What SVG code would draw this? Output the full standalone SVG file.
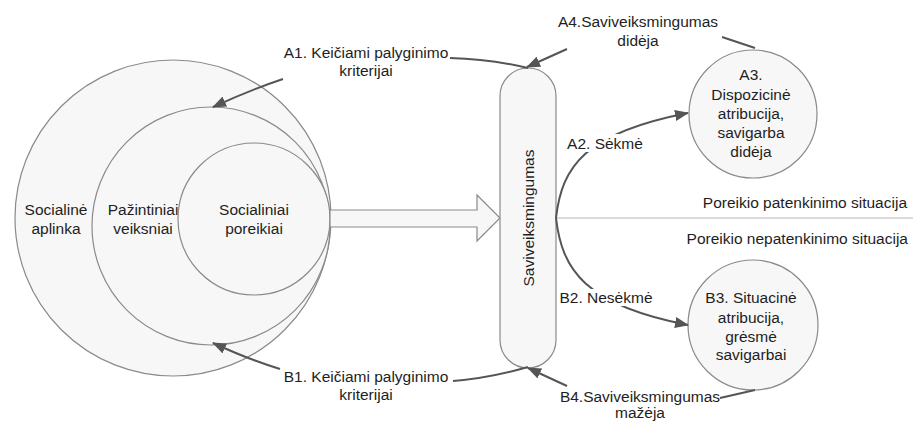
<svg xmlns="http://www.w3.org/2000/svg" width="913" height="421" viewBox="0 0 913 421">
<defs>
<style>
.shape{fill:#f7f7f7;stroke:#8a8a8a;stroke-width:1.2}
.t{font-family:"Liberation Sans",Arial,sans-serif;font-size:15.5px;fill:#1e1e1e;text-anchor:middle;dominant-baseline:central}
.te{font-family:"Liberation Sans",Arial,sans-serif;font-size:15.5px;fill:#1e1e1e;text-anchor:end;dominant-baseline:central}
.c{fill:none;stroke:#555;stroke-width:2}
.ca{fill:none;stroke:#555;stroke-width:2;marker-end:url(#ah)}
.bg{fill:#fff}
</style>
<marker id="ah" markerUnits="userSpaceOnUse" markerWidth="14" markerHeight="11" refX="13" refY="5.5" orient="auto">
<path d="M0,0 L14,5.5 L0,11 Z" fill="#555"/>
</marker>
</defs>
<rect width="913" height="421" fill="#fff"/>

<g id="divider">
<line x1="556" y1="218" x2="913" y2="218" stroke="#cfcfcf" stroke-width="1.5"/>
<text class="te" x="907" y="202">Poreikio patenkinimo situacija</text>
<text class="te" x="908" y="238">Poreikio nepatenkinimo situacija</text>
</g>

<g id="socialine-aplinka">
<circle class="shape" cx="173" cy="218" r="158"/>
<text class="t" x="56" y="209">Socialinė</text>
<text class="t" x="56" y="228">aplinka</text>
</g>
<g id="pazintiniai-veiksniai">
<circle class="shape" cx="211" cy="226" r="119"/>
<text class="t" x="143" y="209">Pažintiniai</text>
<text class="t" x="143" y="228">veiksniai</text>
</g>
<g id="socialiniai-poreikiai">
<circle class="shape" cx="254" cy="219" r="76"/>
<text class="t" x="254" y="209">Socialiniai</text>
<text class="t" x="254" y="228">poreikiai</text>
</g>

<g id="fat-arrow">
<path class="shape" d="M330,210 L477,210 L477,195 L500,218 L477,241 L477,227 L330,227 Z"/>
</g>

<g id="saviveiksmingumas">
<rect class="shape" x="500" y="68" width="56" height="300" rx="28" ry="28"/>
<text class="t" transform="translate(528,218) rotate(-90)" x="0" y="0">Saviveiksmingumas</text>
</g>

<g id="a3">
<circle class="shape" cx="753" cy="114" r="64"/>
<text class="t" x="751" y="74">A3.</text>
<text class="t" x="751" y="94">Dispozicinė</text>
<text class="t" x="751" y="113">atribucija,</text>
<text class="t" x="751" y="132">savigarba</text>
<text class="t" x="751" y="151">didėja</text>
</g>

<g id="b3">
<circle class="shape" cx="753" cy="325" r="65"/>
<text class="t" x="751" y="297">B3. Situacinė</text>
<text class="t" x="751" y="317">atribucija,</text>
<text class="t" x="751" y="336">grėsmė</text>
<text class="t" x="751" y="354">savigarbai</text>
</g>

<g id="connectors">
<path class="c" d="M528,68 Q490,59 450,58"/>
<path class="ca" d="M283,79 Q250,90 213,107"/>
<text class="t" x="366" y="52">A1. Keičiami palyginimo</text>
<text class="t" x="366" y="70">kriterijai</text>

<path class="c" d="M528,367 Q490,378 453,381"/>
<path class="ca" d="M280,369 Q250,360 213,343"/>
<text class="t" x="366" y="376">B1. Keičiami palyginimo</text>
<text class="t" x="366" y="394">kriterijai</text>

<path class="c" d="M755,48 L722,37"/>
<path class="ca" d="M567,49 L527,67"/>
<text class="t" x="638" y="21">A4.Saviveiksmingumas</text>
<text class="t" x="638" y="40">didėja</text>

<path class="c" d="M755,390 L720,398"/>
<path class="ca" d="M567,386 L528,368"/>
<text class="t" x="640" y="396">B4.Saviveiksmingumas</text>
<text class="t" x="640" y="412">mažėja</text>

<path class="ca" d="M556,218 C562,166 585,133 688,113"/>
<rect class="bg" x="566" y="134" width="78" height="18"/>
<text class="t" x="605" y="143">A2. Sėkmė</text>

<path class="ca" d="M556,218 C562,270 585,305 688,325"/>
<rect class="bg" x="558" y="289" width="96" height="17"/>
<text class="t" x="606" y="297">B2. Nesėkmė</text>
</g>
</svg>
